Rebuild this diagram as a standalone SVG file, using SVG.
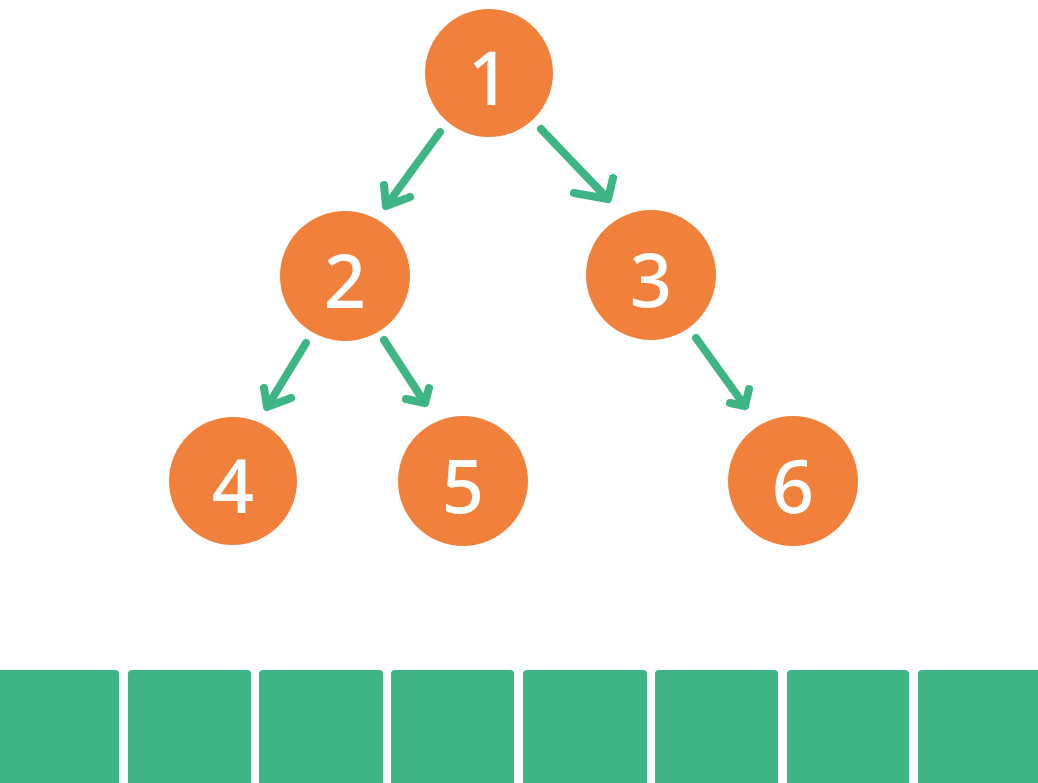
<svg xmlns="http://www.w3.org/2000/svg" width="1038" height="783" viewBox="0 0 1038 783">
<style>
.node circle{fill:#f0803a}
.node text{fill:#ffffff;font-family:"Noto Sans",sans-serif;font-size:74px;font-weight:500;text-anchor:middle;dominant-baseline:central}
.edge{stroke:#3db585;stroke-width:8;stroke-linecap:round;stroke-linejoin:round;fill:none}
.cell{fill:#3db585}
</style>
<rect width="1038" height="783" fill="#ffffff"/>
<g id="connectors">
<path class="edge" d="M440 132 L386 206 M384 185 L386 206 L410 197"/>
<path class="edge" d="M541 129 L608 199 M613 178 L608 199 L574 193"/>
<path class="edge" d="M306 343 L267 407 M264 388 L267 407 L291 398"/>
<path class="edge" d="M384 340 L425 403 M429 388 L425 403 L406 399"/>
<path class="edge" d="M696 338 L745 406 M749 389 L745 406 L730 403"/>
</g>
<g id="node1" class="node"><circle cx="489" cy="73" r="64"/><text x="489" y="76">1</text></g>
<g id="node2" class="node"><circle cx="345" cy="276" r="65"/><text x="345" y="279">2</text></g>
<g id="node3" class="node"><circle cx="651" cy="275" r="65"/><text x="651" y="278">3</text></g>
<g id="node4" class="node"><circle cx="233" cy="481" r="64"/><text x="233" y="484">4</text></g>
<g id="node5" class="node"><circle cx="463" cy="481" r="65"/><text x="463" y="484">5</text></g>
<g id="node6" class="node"><circle cx="793" cy="481" r="65"/><text x="793" y="484">6</text></g>
<g id="array">
<rect class="cell" x="-6" y="670" width="125" height="120" rx="4"/>
<rect class="cell" x="128" y="670" width="123" height="120" rx="4"/>
<rect class="cell" x="259" y="670" width="124" height="120" rx="4"/>
<rect class="cell" x="391" y="670" width="123" height="120" rx="4"/>
<rect class="cell" x="523" y="670" width="124" height="120" rx="4"/>
<rect class="cell" x="655" y="670" width="123" height="120" rx="4"/>
<rect class="cell" x="787" y="670" width="122" height="120" rx="4"/>
<rect class="cell" x="918" y="670" width="130" height="120" rx="4"/>
</g>
</svg>
